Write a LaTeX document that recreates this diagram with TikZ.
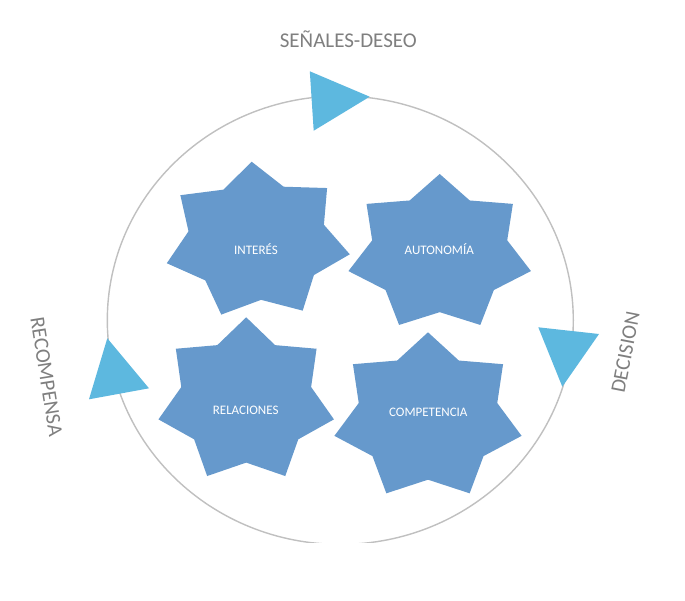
\documentclass[tikz,border=0pt]{standalone}
\usepackage{fontspec}
\setmainfont{Carlito}
\definecolor{starblue}{HTML}{6699CC}
\definecolor{triblue}{HTML}{5DB8DF}
\definecolor{ringgray}{HTML}{C0C0C0}
\definecolor{labelgray}{HTML}{7F7F7F}
\tikzset{
  starfill/.style={fill=starblue},
  trifill/.style={fill=triblue},
  ring/.style={draw=ringgray, line width=1.4pt},
  startext/.style={text=white, font=\fontsize{13}{15}\selectfont, inner sep=0pt},
  outerlabel/.style={text=labelgray, font=\fontsize{21}{24}\selectfont, inner sep=0pt}
}
% #1 cx, #2 cy, #3 rx, #4 ry, #5 rotation (deg, counter-clockwise)
\newcommand{\bluestar}[5]{%
  \fill[starfill] ({#1-#3*sin(#5)},{#2-#4*cos(#5)})
    \foreach \k in {1,...,13}{
      -- ({#1+#3*(1-0.26*mod(\k,2))*cos(90+\k*360/14+#5)},
          {#2-#4*(1-0.26*mod(\k,2))*sin(90+\k*360/14+#5)})
    } -- cycle;}
\begin{document}
\begin{tikzpicture}[x=1pt,y=-1pt]
\useasboundingbox[fill=white] (0,0) rectangle (685,600);

% ring
\begin{scope}
  \clip (0,0) rectangle (685,542);
  \draw[ring] (340.3,320.2) ellipse [x radius=233, y radius=224.2];
\end{scope}

% stars
\bluestar{257.1}{241.1}{94}{79.5}{3.3}
\bluestar{439.7}{253.4}{93.6}{79.4}{0}
\bluestar{246.2}{400.8}{90}{83.5}{0}
\bluestar{428}{417}{96}{84.7}{0}

\node[startext] (interes) at (256,249) {INTERÉS};
\node[startext] (autonomia) at (439.3,249.3) {AUTONOMÍA};
\node[startext] (relaciones) at (245.7,410) {RELACIONES};
\node[startext] (competencia) at (428.3,412.3) {COMPETENCIA};

% triangles
\fill[trifill] (309.8,71.3) -- (369.7,96.7) -- (313.7,130.7) -- cycle;
\fill[trifill] (107.3,338.3) -- (149,388.3) -- (89,399.3) -- cycle;
\fill[trifill] (538.3,327.3) -- (599,334) -- (562.3,386.7) -- cycle;

% labels
\node[outerlabel] (senales) at (348.3,39.3) {SEÑALES-DESEO};
\node[outerlabel, rotate=-81] (recompensa) at (46.5,376.5) {RECOMPENSA};
\node[outerlabel, rotate=79] (decision) at (625.5,352.5) {DECISION};
\end{tikzpicture}
\end{document}
